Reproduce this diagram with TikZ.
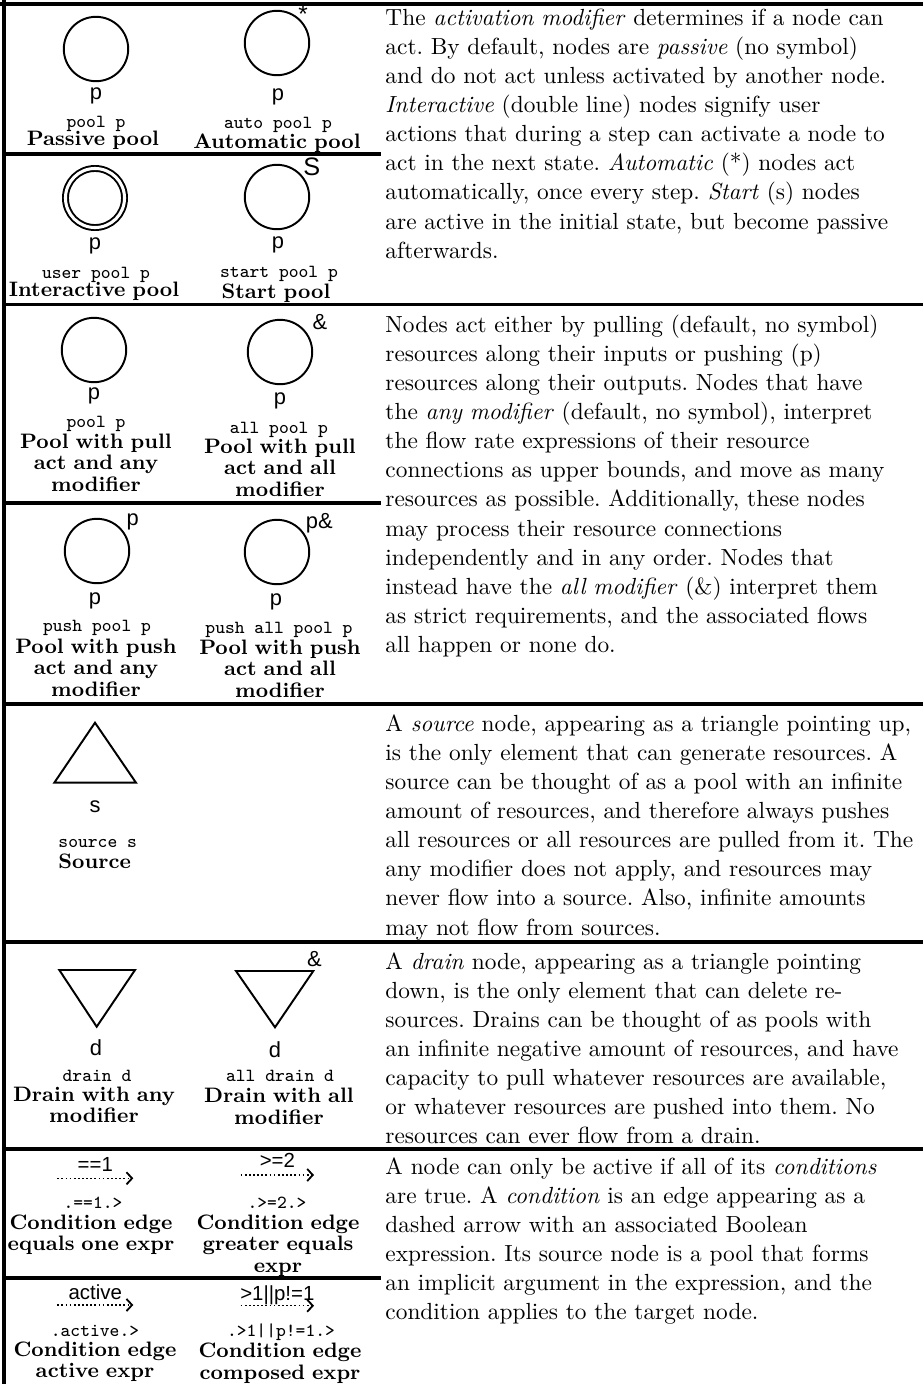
\documentclass[tikz,border=0pt]{standalone}
\usepackage{fontspec}
\newfontfamily\sanslab{Liberation Sans}
\usetikzlibrary{arrows.meta}
\newlength\jw \setlength\jw{218.1pt}
\newcommand\jl[1]{\leavevmode\hbox to \jw{#1}}
\frenchspacing
\tikzset{
  rulethick/.style={line width=1.55pt},
  border/.style={line width=1.65pt},
  outline/.style={draw, line width=0.8pt},
  pool/.style={circle, draw, line width=0.8pt, minimum size=26.5pt, inner sep=0pt},
  upool/.style={pool, double, double distance=1.25pt, minimum size=24.3pt},
  sl/.style={font=\sanslab\fontsize{9}{11}\selectfont, inner sep=0pt},
  code/.style={font=\ttfamily\fontsize{7.6}{9}\selectfont, inner sep=0pt, anchor=base},
  capt/.style={font=\bfseries\fontsize{8.6}{8.9}\selectfont, inner sep=0pt, anchor=base, text width=78pt, align=center},
  para/.style={font=\fontsize{9.6}{12}\selectfont, inner sep=0pt, anchor=base west, text width=245pt, align=left},
  cond/.style={line width=0.6pt, dash pattern=on 0.7pt off 1pt, -{Straight Barb[length=2.3pt,width=5pt,line width=0.75pt]}},
  elab/.style={font=\sanslab\fontsize{8.4}{10}\selectfont, inner sep=0pt, anchor=base}
}
\begin{document}
\begin{tikzpicture}[x=0.41152pt, y=-0.41152pt]
\useasboundingbox (0,0) rectangle (923,1384);
\fill[white] (0,0) rectangle (923,1384);
% table rules
\draw[border] (0,3.5) -- (923,3.5);
\draw[border] (4,0) -- (4,1384);
\draw[rulethick] (4,154) -- (381,154);
\draw[rulethick] (4,304.5) -- (923,304.5);
\draw[rulethick] (4,503) -- (381,503);
\draw[rulethick] (4,704) -- (923,704);
\draw[rulethick] (4,942) -- (923,942);
\draw[rulethick] (4,1149) -- (923,1149);
\draw[rulethick] (4,1278) -- (381,1278);

% ---- row 1
\node[pool] (pA) at (96,49) {};
\node[sl] (pAl) at (96,95.5) {p};
\node[code] (pAc) at (96,127) {pool p};
\node[capt] (pAt) at (93,145.5) {Passive pool};

\node[pool] (pB) at (277,43) {};
\node[sl, anchor=base, font=\sanslab\fontsize{10}{11}\selectfont] (pBm) at (303,22) {*};
\node[sl] (pBl) at (278,96.5) {p};
\node[code] (pBc) at (278,128.5) {auto pool p};
\node[capt] (pBt) at (277,148) {Automatic pool};

% ---- row 2
\node[upool] (pC) at (95,198) {};
\node[sl] (pCl) at (95,245.5) {p};
\node[code] (pCc) at (96,278.5) {user pool p};
\node[capt] (pCt) at (94,296) {Interactive pool};

\node[pool] (pD) at (277,197) {};
\node[sl, font=\sanslab\fontsize{10.4}{12}\selectfont] (pDm) at (311.7,166.7) {S};
\node[sl] (pDl) at (278,244.5) {p};
\node[code] (pDc) at (279,277) {start pool p};
\node[capt] (pDt) at (276,298) {Start pool};

% ---- row 3
\node[pool] (pE) at (94,350) {};
\node[sl] (pEl) at (94,395.8) {p};
\node[code] (pEc) at (96,427.5) {pool p};
\node[capt] (pEt) at (96,448) {Pool with pull\\act and any\\modifier};

\node[pool] (pF) at (280,352) {};
\node[sl] (pFm) at (320,322) {\&};
\node[sl] (pFl) at (280,400.8) {p};
\node[code] (pFc) at (279,433.5) {all pool p};
\node[capt] (pFt) at (280,453) {Pool with pull\\act and all\\modifier};

% ---- row 4
\node[pool] (pG) at (97,551) {};
\node[sl] (pGm) at (132.7,522) {p};
\node[sl] (pGl) at (95,600.8) {p};
\node[code] (pGc) at (97,631) {push pool p};
\node[capt] (pGt) at (96,653) {Pool with push\\act and any\\modifier};

\node[pool] (pH) at (277,552) {};
\node[sl] (pHm) at (319.3,523.3) {p\&};
\node[sl] (pHl) at (276,602) {p};
\node[code] (pHc) at (279,633) {push all pool p};
\node[capt] (pHt) at (280,654) {Pool with push\\act and all\\modifier};

% ---- source
\coordinate (srcT) at (95,722.7);
\coordinate (srcL) at (54.3,782.7);
\coordinate (srcR) at (136,782.7);
\draw[outline] (srcT) -- (srcL) -- (srcR) -- cycle;
\node[sl] (srcl) at (95,807) {s};
\node[code, anchor=base west] (srcc) at (58,847) {source s};
\node[capt, anchor=base west, align=left] (srct) at (58,868) {Source};

% ---- drains
\coordinate (dAL) at (59.3,970);
\coordinate (dAR) at (135,970);
\coordinate (dAB) at (96.7,1026.7);
\draw[outline] (dAL) -- (dAR) -- (dAB) -- cycle;
\node[sl] (dAl) at (96,1048) {d};
\node[code] (dAc) at (97,1081.7) {drain d};
\node[capt] (dAt) at (94,1101) {Drain with any\\modifier};

\coordinate (dBL) at (236,971);
\coordinate (dBR) at (313.3,971);
\coordinate (dBB) at (275,1027.3);
\draw[outline] (dBL) -- (dBR) -- (dBB) -- cycle;
\node[sl] (dBm) at (314.3,959.3) {\&};
\node[sl] (dBl) at (275,1050) {d};
\node[code] (dBc) at (280,1081.7) {all drain d};
\node[capt] (dBt) at (279,1102.7) {Drain with all\\modifier};

% ---- conditions
\coordinate (cAs) at (57.3,1178.3);
\coordinate (cAe) at (133.3,1178.3);
\draw[cond] (cAs) -- node[elab, yshift=2.9pt] (cAl) {==1} (cAe);
\node[code] (cAc) at (93,1208) {.==1.>};
\node[capt] (cAt) at (91,1229) {Condition edge\\equals one expr};

\coordinate (cBs) at (240.7,1175);
\coordinate (cBe) at (314,1175);
\draw[cond] (cBs) -- node[elab, yshift=2.9pt] (cBl) {>=2} (cBe);
\node[code] (cBc) at (277,1208) {.>=2.>};
\node[capt] (cBt) at (278,1229) {Condition edge\\greater equals\\expr};

\coordinate (cCs) at (57.3,1305);
\coordinate (cCe) at (133.3,1305);
\draw[cond] (cCs) -- node[elab, yshift=2.2pt] (cCl) {active} (cCe);
\node[code] (cCc) at (95,1336.7) {.active.>};
\node[capt] (cCt) at (95,1356) {Condition edge\\active expr};

\coordinate (cDs) at (240.7,1305.7);
\coordinate (cDe) at (314,1305.7);
\draw[cond] (cDs) -- node[elab, yshift=2.3pt] (cDl) {>1||p!=1} (cDe);
\node[code] (cDc) at (281,1336) {.>1||p!=1.>};
\node[capt] (cDt) at (280,1357.5) {Condition edge\\composed expr};

% ---- right column text
\node[para] (t1) at (385,25) {The \textit{activation modifier} determines if a node can\\
act. By default, nodes are \textit{passive} (no symbol)\\
and do not act unless activated by another node.\\
\textit{Interactive} (double line) nodes signify user\\
actions that during a step can activate a node to\\
act in the next state. \textit{Automatic} (*) nodes act\\
automatically, once every step. \textit{Start} (s) nodes\\
are active in the initial state, but become passive\\
afterwards.};

\node[para] (t2) at (385,332) {Nodes act either by pulling (default, no symbol)\\
resources along their inputs or pushing (p)\\
resources along their outputs. Nodes that have\\
the \textit{any modifier} (default, no symbol), interpret\\
the flow rate expressions of their resource\\
connections as upper bounds, and move as many\\
resources as possible. Additionally, these nodes\\
may process their resource connections\\
independently and in any order. Nodes that\\
instead have the \textit{all modifier} (\&) interpret them\\
as strict requirements, and the associated flows\\
all happen or none do.};

\node[para] (t3) at (385,731) {\jl{A \textit{source} node, appearing as a triangle pointing up,}\\
\jl{is the only element that can generate resources. A}\\
\jl{source can be thought of as a pool with an infinite}\\
\jl{amount of resources, and therefore always pushes}\\
\jl{all resources or all resources are pulled from it. The}\\
\jl{any modifier does not apply, and resources may}\\
\jl{never flow into a source. Also, infinite amounts}\\
may not flow from sources.};

\node[para] (t4) at (385,969) {\jl{A \textit{drain} node, appearing as a triangle pointing}\\
\jl{down, is the only element that can delete re-}\\
\jl{sources. Drains can be thought of as pools with}\\
\jl{an infinite negative amount of resources, and have}\\
\jl{capacity to pull whatever resources are available,}\\
\jl{or whatever resources are pushed into them. No}\\
resources can ever flow from a drain.};

\node[para] (t5) at (385,1174) {A node can only be active if all of its \textit{conditions}\\
are true. A \textit{condition} is an edge appearing as a\\
dashed arrow with an associated Boolean\\
expression. Its source node is a pool that forms\\
an implicit argument in the expression, and the\\
condition applies to the target node.};
\end{tikzpicture}
\end{document}
